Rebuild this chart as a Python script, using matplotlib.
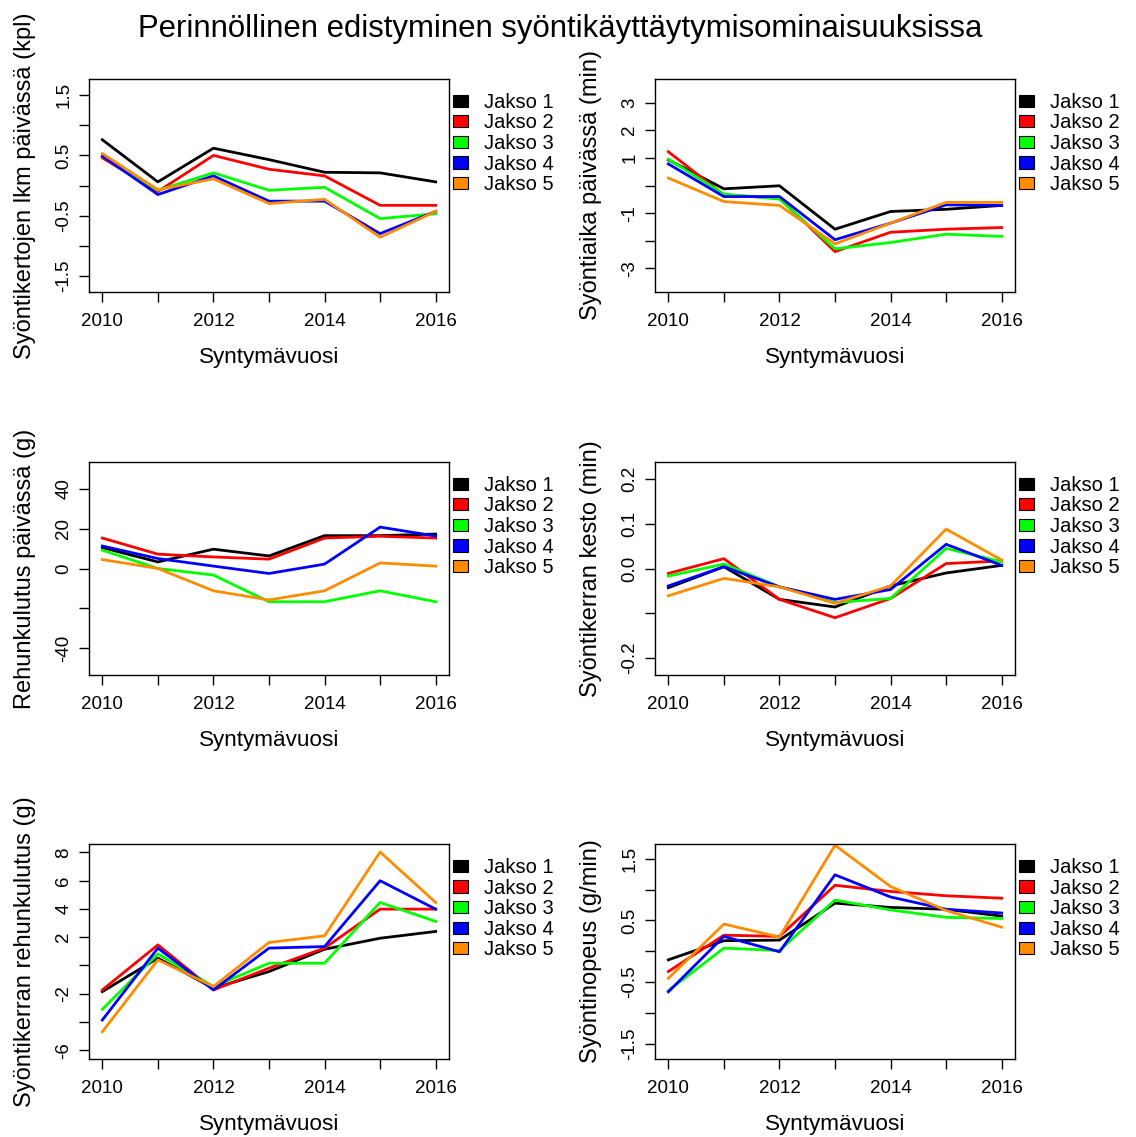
import matplotlib
matplotlib.use("Agg")
import matplotlib.pyplot as plt
from matplotlib.patches import Patch

plt.rcParams['font.family'] = ['Liberation Sans', 'DejaVu Sans']

years = [2010, 2011, 2012, 2013, 2014, 2015, 2016]
jaksot = ["Jakso 1", "Jakso 2", "Jakso 3", "Jakso 4", "Jakso 5"]
colors = ["black", "#FF0000", "#00FF00", "#0000FF", "#FF8C00"]

title = "Perinnöllinen edistyminen syöntikäyttäytymisominaisuuksissa"
xlabel = "Syntymävuosi"

# one list per jakso, values per birth year
kerrat_lkm = [
	[0.76, 0.06, 0.62, 0.43, 0.22, 0.21, 0.06],
	[0.46, -0.10, 0.50, 0.27, 0.16, -0.33, -0.33],
	[0.49, -0.08, 0.21, -0.08, -0.03, -0.55, -0.47],
	[0.49, -0.15, 0.16, -0.26, -0.26, -0.80, -0.43],
	[0.53, -0.07, 0.11, -0.30, -0.23, -0.86, -0.43],
]
syontiaika = [
	[0.93, -0.12, -0.01, -1.58, -0.94, -0.86, -0.72],
	[1.22, -0.34, -0.46, -2.39, -1.69, -1.58, -1.52],
	[0.95, -0.31, -0.49, -2.29, -2.06, -1.76, -1.84],
	[0.78, -0.40, -0.40, -1.96, -1.36, -0.70, -0.72],
	[0.27, -0.58, -0.72, -2.11, -1.36, -0.61, -0.61],
]
rehunkulutus = [
	[10.5, 3.3, 9.7, 6.3, 16.5, 16.5, 17.3],
	[15.3, 7.2, 5.8, 4.7, 15.3, 16.2, 15.3],
	[9.2, 0.0, -3.3, -16.7, -16.7, -11.2, -16.7],
	[11.3, 5.0, 1.2, -2.5, 2.2, 20.8, 16.3],
	[4.5, 0.0, -11.2, -15.8, -11.2, 2.8, 1.2],
]
kerran_kesto = [
	[-0.043, 0.004, -0.069, -0.086, -0.039, -0.010, 0.007],
	[-0.011, 0.022, -0.069, -0.110, -0.067, 0.011, 0.017],
	[-0.017, 0.010, -0.041, -0.076, -0.067, 0.045, 0.015],
	[-0.039, 0.004, -0.041, -0.069, -0.047, 0.054, 0.007],
	[-0.061, -0.022, -0.041, -0.078, -0.039, 0.088, 0.019],
]
kerran_rehu = [
	[-1.86, 0.51, -1.62, -0.44, 1.14, 1.92, 2.40],
	[-1.74, 1.45, -1.74, -0.20, 1.22, 3.98, 3.98],
	[-3.11, 0.81, -1.50, 0.15, 0.15, 4.45, 3.11],
	[-3.87, 1.22, -1.74, 1.22, 1.33, 5.99, 3.98],
	[-4.70, 0.39, -1.50, 1.62, 2.09, 8.02, 4.45],
]
syontinopeus = [
	[-0.14, 0.17, 0.18, 0.78, 0.71, 0.68, 0.57],
	[-0.33, 0.26, 0.24, 1.07, 0.97, 0.90, 0.86],
	[-0.64, 0.05, 0.01, 0.83, 0.67, 0.55, 0.53],
	[-0.66, 0.24, -0.01, 1.24, 0.88, 0.68, 0.62],
	[-0.44, 0.44, 0.23, 1.72, 1.05, 0.66, 0.39],
]

ylabels = [
	"Syöntikertojen lkm päivässä (kpl)",
	"Syöntiaika päivässä (min)",
	"Rehunkulutus päivässä (g)",
	"Syöntikerran kesto (min)",
	"Syöntikerran rehunkulutus (g)",
	"Syöntinopeus (g/min)",
]
ylims = [(-1.77, 1.77), (-3.85, 3.85), (-53.5, 53.5), (-0.238, 0.238), (-6.63, 8.59), (-1.75, 1.74)]
yticks = [
	[-1.5, -1, -0.5, 0, 0.5, 1, 1.5],
	[-3, -2, -1, 0, 1, 2, 3],
	[-40, -20, 0, 20, 40],
	[-0.2, -0.1, 0.0, 0.1, 0.2],
	[-6, -4, -2, 0, 2, 4, 6, 8],
	[-1.5, -1, -0.5, 0, 0.5, 1, 1.5],
]
# R drops overlapping labels, keep the ones that were shown
yticklabels = [
	["-1.5", "", "-0.5", "", "0.5", "", "1.5"],
	["-3", "", "-1", "", "1", "2", "3"],
	["-40", "", "0", "20", "40"],
	["-0.2", "", "0.0", "0.1", "0.2"],
	["-6", "", "-2", "", "2", "4", "6", "8"],
	["-1.5", "", "-0.5", "", "0.5", "", "1.5"],
]
panels = [kerrat_lkm, syontiaika, rehunkulutus, kerran_kesto, kerran_rehu, syontinopeus]

# axes boxes in pixels (left, top, right, bottom)
boxes = [
	(89, 79, 449, 292), (655, 79, 1015, 292),
	(89, 462, 449, 675), (655, 462, 1015, 675),
	(89, 844, 449, 1059), (655, 844, 1015, 1059),
]

W, H = 1136, 1137
fig = plt.figure(figsize=(W / 100, H / 100), dpi=100)
fig.text(560 / W, 1 - 29 / H, title, ha="center", va="center", fontsize=22.4)

handles = [Patch(facecolor=c, edgecolor="black", linewidth=0.8) for c in colors]

for i, data in enumerate(panels):
	l, t, r, b = boxes[i]
	ax = fig.add_axes([l / W, 1 - b / H, (r - l) / W, (b - t) / H])
	for series, col in zip(data, colors):
		ax.plot(years, series, color=col, linewidth=2)
	ax.set_xlim(2009.76, 2016.24)
	ax.set_ylim(*ylims[i])
	ax.set_xticks(years, labels=[str(y) if y % 2 == 0 else "" for y in years])
	ax.set_yticks(yticks[i], labels=yticklabels[i])
	ax.tick_params(axis="both", direction="out", length=7, width=1, labelsize=13.5)
	ax.tick_params(axis="x", pad=8)
	ax.tick_params(axis="y", pad=5)
	for lab in ax.get_yticklabels():
		lab.set_rotation(90)
		lab.set_va("center")
	for sp in ax.spines.values():
		sp.set_linewidth(1)
	ax.set_xlabel(xlabel, fontsize=16.2, labelpad=12.5)
	ax.set_ylabel(ylabels[i], fontsize=17, labelpad=14)
	ax.legend(handles, jaksot, loc="upper left", bbox_to_anchor=(1.011, 0.935),
		frameon=False, fontsize=14.5, handlelength=0.75, handleheight=0.55,
		handletextpad=0.78, labelspacing=0.08, borderpad=0, borderaxespad=0)

fig.savefig("out.png", dpi=100)
